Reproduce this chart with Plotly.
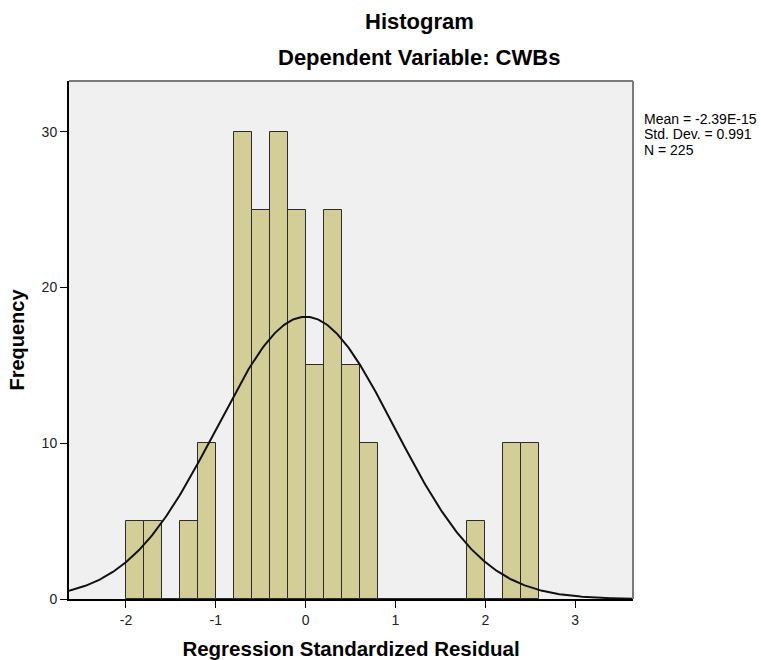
import numpy as np
import plotly.graph_objects as go

# ---- data ----
bin_start = -2.0
bin_width = 0.2
counts = [5, 5, 0, 5, 10, 0, 30, 25, 30, 25, 15, 25, 15, 10, 0, 0, 0, 0, 0, 5, 0, 10, 10]
mean_val = -2.39e-15
sd_val = 0.991
n_val = 225
x_ticks = [-2, -1, 0, 1, 2, 3]
x_tick_labels = ["-2", "-1", "0", "1", "2", "3"]
y_ticks = [0, 10, 20, 30]
y_tick_labels = ["0", "10", "20", "30"]
title_1 = "Histogram"
title_2 = "Dependent Variable: CWBs"
x_title = "Regression Standardized Residual"
y_title = "Frequency"
stats_lines = ["Mean = -2.39E-15", "Std. Dev. = 0.991", "N = 225"]

x_range = [-2.634, 3.644]
y_range = [0, 33.25]

centers = bin_start + bin_width * (np.arange(len(counts)) + 0.5)

xs = np.linspace(x_range[0], x_range[1], 400)
ys = n_val * bin_width * np.exp(-0.5 * ((xs - mean_val) / sd_val) ** 2) / (sd_val * np.sqrt(2 * np.pi))

FONT = "Liberation Sans, Arial, sans-serif"

fig = go.Figure()
fig.add_trace(go.Bar(
    x=centers, y=counts, width=bin_width,
    marker=dict(color="#D3CE97", line=dict(color="#2b2b2b", width=1)),
    hoverinfo="skip", showlegend=False,
))
fig.add_trace(go.Scatter(
    x=xs, y=ys, mode="lines", line=dict(color="#111111", width=2),
    hoverinfo="skip", showlegend=False, cliponaxis=True,
))

L, R, T, B = 69, 128, 81, 61
W, H = 761, 660
pw = W - L - R
ph = H - T - B

def px_x(p):
    return (p - L) / pw

def px_y(p):
    return (H - B - p) / ph

annotations = [
    dict(text=f"<b>{title_1}</b>", x=px_x(419), y=px_y(22), xref="paper", yref="paper",
         xanchor="center", yanchor="middle", showarrow=False,
         font=dict(family=FONT, size=22, color="#000")),
    dict(text=f"<b>{title_2}</b>", x=px_x(419), y=px_y(57), xref="paper", yref="paper",
         xanchor="center", yanchor="middle", showarrow=False,
         font=dict(family=FONT, size=22, color="#000")),
]
for i, line in enumerate(stats_lines):
    annotations.append(dict(text=line, x=px_x(642), y=px_y(119 + 15.5 * i), xref="paper", yref="paper",
                            xanchor="left", yanchor="middle", showarrow=False,
                            font=dict(family=FONT, size=14, color="#000")))

fig.update_layout(
    width=W, height=H,
    margin=dict(l=L, r=R, t=T, b=B),
    paper_bgcolor="white",
    plot_bgcolor="#F0F0F0",
    bargap=0,
    annotations=annotations,
    shapes=[
        dict(type="line", xref="paper", yref="paper", x0=0, x1=1, y0=1, y1=1,
             line=dict(color="#7a7a7a", width=2)),
        dict(type="line", xref="paper", yref="paper", x0=1, x1=1, y0=0, y1=1,
             line=dict(color="#7a7a7a", width=2)),
    ],
    xaxis=dict(
        range=x_range, tickvals=x_ticks, ticktext=x_tick_labels, ticks="outside", ticklen=7,
        tickcolor="#000",
        showline=True, linecolor="#000", linewidth=2, showgrid=False, zeroline=False,
        automargin=False,
        tickfont=dict(family=FONT, size=14, color="#222"),
        title=dict(text=f"<b>{x_title}</b>", font=dict(family=FONT, size=20.5, color="#000"), standoff=18),
    ),
    yaxis=dict(
        range=y_range, tickvals=y_ticks, ticktext=y_tick_labels, ticks="outside", ticklen=7,
        tickcolor="#000",
        showline=True, linecolor="#000", linewidth=2, showgrid=False, zeroline=False,
        automargin=False,
        tickfont=dict(family=FONT, size=14, color="#222"),
        title=dict(text=f"<b>{y_title}</b>", font=dict(family=FONT, size=20, color="#000"), standoff=12),
    ),
)

fig.write_html("out.html")
